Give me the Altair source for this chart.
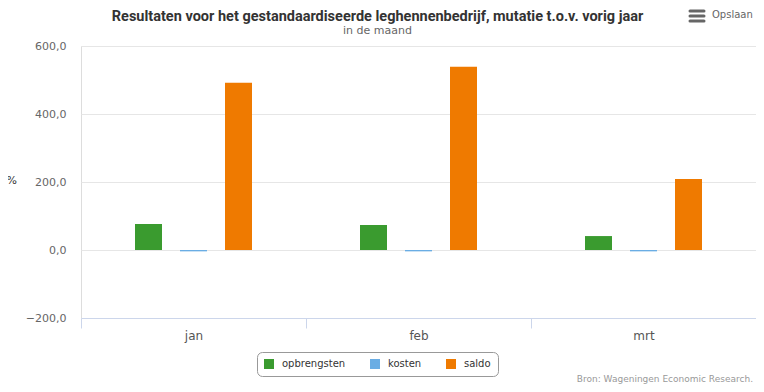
import altair as alt
import pandas as pd

months = ["jan", "feb", "mrt"]
series = ["opbrengsten", "kosten", "saldo"]
opbrengsten = [76.5, 73.5, 41.0]
kosten = [-4.0, -4.0, -4.0]
saldo = [492.0, 539.0, 209.0]
colors = ["#3a9b2f", "#6aade4", "#ef7a00"]
y_ticks = [-200, 0, 200, 400, 600]

title_text = "Resultaten voor het gestandaardiseerde leghennenbedrijf, mutatie t.o.v. vorig jaar"
subtitle_text = "in de maand"
source_text = "Bron: Wageningen Economic Research."
menu_text = "Opslaan"

rows = []
for i, m in enumerate(months):
    for s, vals in zip(series, [opbrengsten, kosten, saldo]):
        rows.append({"maand": m, "reeks": s, "waarde": vals[i]})
df = pd.DataFrame(rows)

W, H = 675, 272
FONT = "DejaVu Sans"
# empty slots at both ends of each month group give the group its outer spacing
offset_domain = ["_links"] + series + ["_rechts"]

bars = alt.Chart(df).mark_bar().encode(
    x=alt.X("maand:N", sort=months,
            scale=alt.Scale(paddingInner=0, paddingOuter=0),
            axis=alt.Axis(title=None, labelAngle=0, tickBand="extent",
                          tickSize=10, tickColor="#ccd6eb", domainColor="#ccd6eb",
                          labelColor="#555555", labelFontSize=12, labelFont=FONT,
                          labelPadding=2, grid=False)),
    xOffset=alt.XOffset("reeks:N",
                        scale=alt.Scale(domain=offset_domain, paddingInner=0.4, paddingOuter=0.2)),
    y=alt.Y("waarde:Q",
            scale=alt.Scale(domain=[-200, 600], nice=False, zero=False),
            axis=alt.Axis(values=y_ticks, title="%", titleAngle=0, titleX=-75, titleY=134,
                          titleAlign="left", titleBaseline="middle", titleFontWeight="normal",
                          titleFontSize=11, titleColor="#333333", titleFont=FONT,
                          labelExpr="replace(format(datum.value, '.1f'), '.', ',')",
                          labelColor="#666666", labelFontSize=11, labelFont=FONT,
                          labelPadding=15, ticks=False, domain=False,
                          gridColor="#e6e6e6")),
    color=alt.Color("reeks:N", sort=series,
                    scale=alt.Scale(domain=series, range=colors),
                    legend=alt.Legend(title=None, orient="none", direction="horizontal",
                                      legendX=176, legendY=306,
                                      symbolType="square", symbolSize=100,
                                      symbolStrokeWidth=0, symbolOpacity=1,
                                      labelFont=FONT, labelFontSize=10, labelColor="#333333",
                                      labelOffset=8, columnPadding=24,
                                      strokeColor="#999999", cornerRadius=5, padding=7,
                                      fillColor="white")),
)

title_mark = alt.Chart(pd.DataFrame({"t": [title_text]})).mark_text(
    align="center", baseline="alphabetic", font="Roboto", fontSize=14.5,
    fontWeight="bold", color="#333333"
).encode(text="t:N", x=alt.value(296.5), y=alt.value(-25))

subtitle_mark = alt.Chart(pd.DataFrame({"t": [subtitle_text]})).mark_text(
    align="center", baseline="alphabetic", font=FONT, fontSize=11, color="#666666"
).encode(text="t:N", x=alt.value(296.5), y=alt.value(-12))

src = alt.Chart(pd.DataFrame({"t": [source_text]})).mark_text(
    align="right", baseline="middle", font=FONT, fontSize=9, color="#999999"
).encode(text="t:N", x=alt.value(672), y=alt.value(333))

menu = alt.Chart(pd.DataFrame({"t": [menu_text]})).mark_text(
    align="left", baseline="middle", font=FONT, fontSize=10, color="#666666"
).encode(text="t:N", x=alt.value(631), y=alt.value(-31))

icon_layers = []
for yy in (-35, -30, -25):
    icon_layers.append(
        alt.Chart(pd.DataFrame({"t": [menu_text]})).mark_rule(
            color="#666666", strokeWidth=3, strokeCap="round"
        ).encode(x=alt.value(609), x2=alt.value(623), y=alt.value(yy))
    )

chart = alt.layer(bars, title_mark, subtitle_mark, src, menu, *icon_layers).properties(
    width=W, height=H,
    autosize=alt.AutoSizeParams(type="none"),
    padding={"left": 73, "top": 38, "right": 0, "bottom": 66},
).configure_view(stroke=None).configure(background="white")

chart.save("out.html", embed_options={"renderer": "svg", "actions": False})
